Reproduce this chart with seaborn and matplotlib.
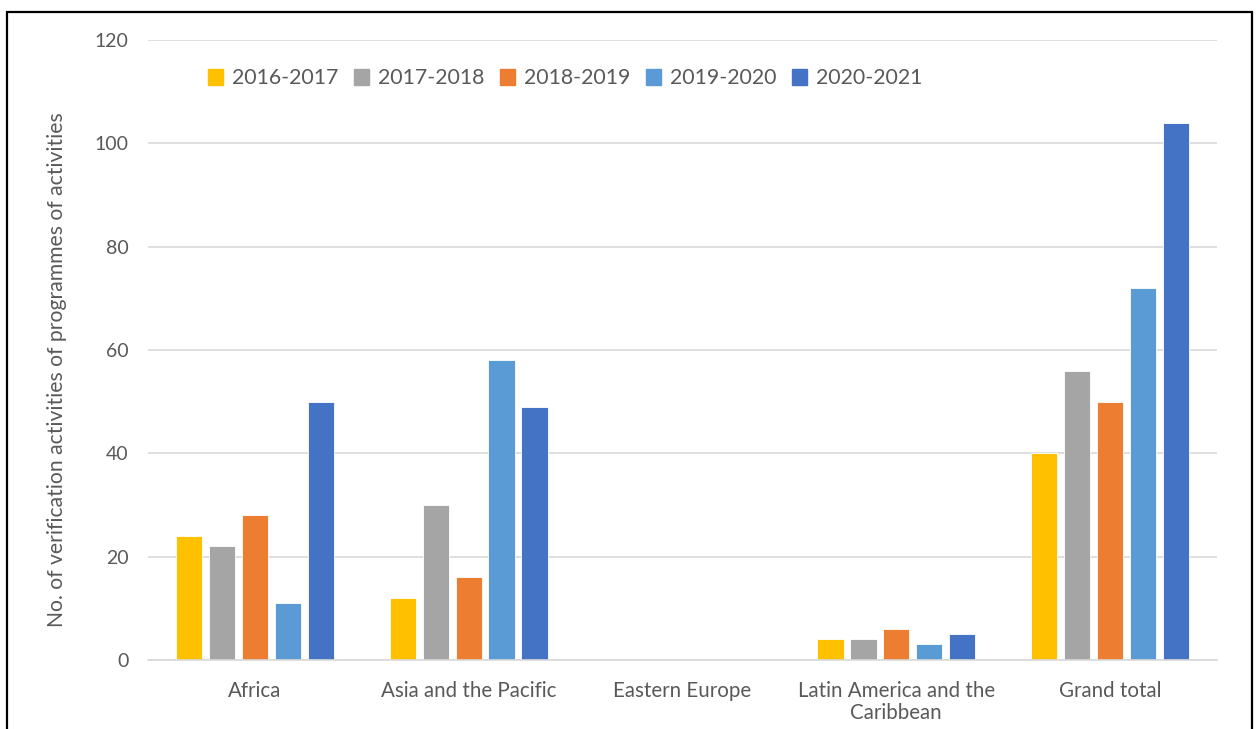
import matplotlib
matplotlib.use("Agg")
import matplotlib.pyplot as plt
import matplotlib.patches as mpatches
import seaborn as sns
import pandas as pd

# Verification activities per region and reporting period
regions = ["Africa", "Asia and the Pacific", "Eastern Europe",
           "Latin America and the\nCaribbean", "Grand total"]
periods = ["2016-2017", "2017-2018", "2018-2019", "2019-2020", "2020-2021"]
values = {
    "2016-2017": [24, 12, 0, 4, 40],
    "2017-2018": [22, 30, 0, 4, 56],
    "2018-2019": [28, 16, 0, 6, 50],
    "2019-2020": [11, 58, 0, 3, 72],
    "2020-2021": [50, 49, 0, 5, 104],
}
colors = ["#FFC000", "#A5A5A5", "#ED7D31", "#5B9BD5", "#4472C4"]
y_ticks = [0, 20, 40, 60, 80, 100, 120]

rows = []
for p in periods:
    for r, v in zip(regions, values[p]):
        rows.append({"region": r, "period": p, "count": v})
df = pd.DataFrame(rows)

sns.set_theme(style="white")
plt.rcParams["font.family"] = ["Lato", "DejaVu Sans"]
text_color = "#595959"
grid_color = "#D9D9D9"

fig = plt.figure(figsize=(12.57, 7.29), dpi=100)
ax = fig.add_axes([0.1177, 0.0947, 0.8505, 0.8504])

sns.barplot(data=df, x="region", y="count", hue="period",
            order=regions, hue_order=periods, palette=colors, saturation=1,
            width=0.77, gap=0.2, edgecolor="white", linewidth=0.6,
            ax=ax, legend=False)

ax.set_ylim(0, 120)
ax.set_xlim(-0.5, len(regions) - 0.5)
ax.set_yticks(y_ticks)
ax.set_yticklabels([str(t) for t in y_ticks])
ax.yaxis.grid(True, color=grid_color, linewidth=1.2)
ax.set_axisbelow(True)
for side in ["top", "right", "left"]:
    ax.spines[side].set_visible(False)
ax.spines["bottom"].set_color(grid_color)
ax.spines["bottom"].set_linewidth(1.2)
ax.tick_params(axis="both", length=0, colors=text_color)
ax.tick_params(axis="y", labelsize=14, pad=14)
ax.tick_params(axis="x", labelsize=14.8, pad=15)
for lbl in ax.get_xticklabels():
    lbl.set_linespacing(1.15)
ax.set_xlabel("")
ax.set_ylabel("No. of verification activities of programmes of activities",
              fontsize=15.2, color=text_color)
ax.yaxis.set_label_coords(-0.076, 0.468)

handles = [mpatches.Patch(color=c, label=p) for c, p in zip(colors, periods)]
leg = ax.legend(handles=handles, loc="center left", bbox_to_anchor=(0.056, 0.938),
                ncol=5, frameon=False, fontsize=15.3, handlelength=0.72,
                handleheight=0.72, handletextpad=0.42, columnspacing=0.72,
                borderaxespad=0, borderpad=0, labelcolor=text_color)

# Outer frame around the chart area
frame = mpatches.Rectangle((7 / 1257, -0.05), (1252 - 7) / 1257, 1 - 12 / 729 + 0.05,
                           transform=fig.transFigure, fill=False,
                           edgecolor="black", linewidth=1.6, clip_on=False)
fig.patches.append(frame)

fig.savefig("out.png", dpi=100, facecolor="white")
